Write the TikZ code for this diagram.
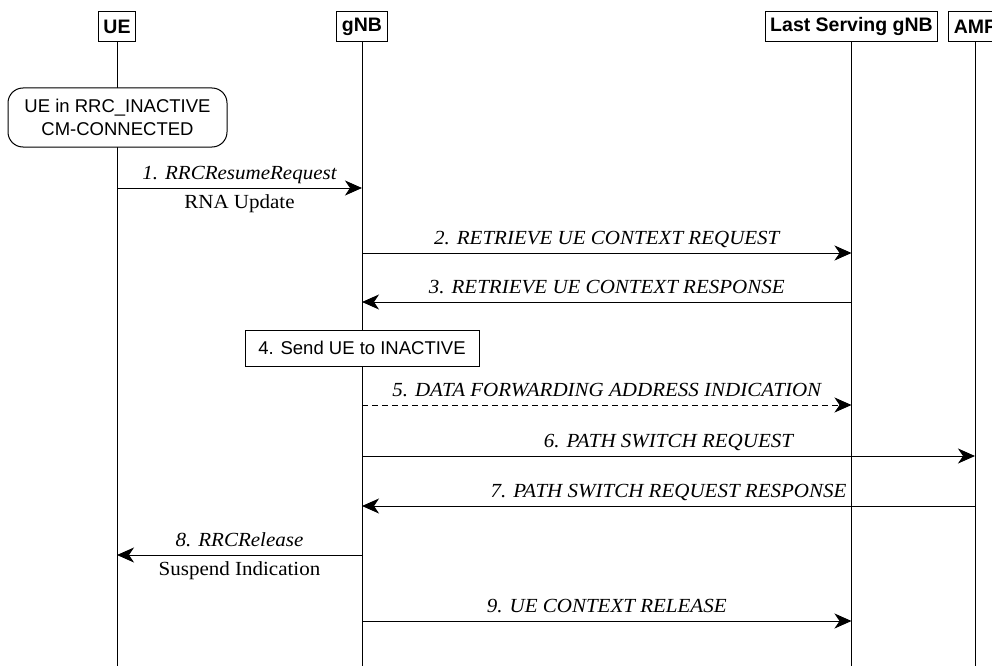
\documentclass[tikz,border=0pt]{standalone}
\usepackage{fontspec}
\setsansfont{Liberation Sans}
\newfontfamily\msgfont[FakeStretch=1.05]{Liberation Serif}
\usetikzlibrary{arrows.meta, positioning, calc}

\begin{document}
\begin{tikzpicture}[x=1pt, y=-1pt, line width=1pt,
    entity/.style={draw, fill=white, font=\sffamily\bfseries\fontsize{19.5}{23}\selectfont, minimum height=30pt, inner xsep=5pt, inner ysep=0pt},
    statebox/.style={draw, fill=white, rounded corners=15pt, align=center, font=\sffamily\fontsize{18.5}{23}\selectfont, minimum width=219pt, minimum height=59pt},
    actbox/.style={draw, fill=white, font=\sffamily\fontsize{18.5}{22}\selectfont, minimum width=234pt, minimum height=36pt},
    msg/.style={-{Stealth[length=17pt, width=15pt, inset=5pt]}},
    lbl/.style={font=\msgfont\fontsize{20}{24}\selectfont\itshape, text height=14pt, text depth=5pt, inner sep=0pt},
    sub/.style={font=\msgfont\fontsize{20}{24}\selectfont, text height=14pt, text depth=5pt, inner sep=0pt}]
    \useasboundingbox (0,0) rectangle (992,666);

    % Entities
    \node[entity] (ue) at (117,27) {UE};
    \node[entity] (gnb) at (362,27) {gNB};
    \node[entity] (lsgnb) at (851.5,27) {Last Serving gNB};
    \node[entity] (amf) at (975,27) {AMF};

    % Lifelines
    \coordinate (bottom) at (0,666);
    \foreach \n in {ue, gnb, lsgnb, amf}
        \draw (\n.south) -- (\n |- bottom);

    % Message rows
    \coordinate (m1) at (0,188);
    \coordinate (m2) at (0,253);
    \coordinate (m3) at (0,302);
    \coordinate (m5) at (0,405);
    \coordinate (m6) at (0,456);
    \coordinate (m7) at (0,506);
    \coordinate (m8) at (0,555);
    \coordinate (m9) at (0,621);

    % UE state
    \node[statebox] (state) at (117.5,117.5) {UE in RRC\_INACTIVE\\CM-CONNECTED};

    % Messages
    \draw[msg] (ue |- m1) -- node[lbl, above=3pt] {1. RRCResumeRequest} node[sub, below=6pt] {RNA Update} (gnb |- m1);
    \draw[msg] (gnb |- m2) -- node[lbl, above=3pt] {2. RETRIEVE UE CONTEXT REQUEST} (lsgnb |- m2);
    \draw[msg] (lsgnb |- m3) -- node[lbl, above=3pt] {3. RETRIEVE UE CONTEXT RESPONSE} (gnb |- m3);

    % Step 4
    \node[actbox] (send) at (362,348) {4. Send UE to INACTIVE};

    \draw[msg, dash pattern=on 6pt off 4pt] (gnb |- m5) -- node[lbl, above=3pt] {5. DATA FORWARDING ADDRESS INDICATION} (lsgnb |- m5);
    \draw[msg] (gnb |- m6) -- node[lbl, above=3pt] {6. PATH SWITCH REQUEST} (amf |- m6);
    \draw[msg] (amf |- m7) -- node[lbl, above=3pt] {7. PATH SWITCH REQUEST RESPONSE} (gnb |- m7);
    \draw[msg] (gnb |- m8) -- node[lbl, above=3pt] {8. RRCRelease} node[sub, below=6pt] {Suspend Indication} (ue |- m8);
    \draw[msg] (gnb |- m9) -- node[lbl, above=3pt] {9. UE CONTEXT RELEASE} (lsgnb |- m9);
\end{tikzpicture}
\end{document}
